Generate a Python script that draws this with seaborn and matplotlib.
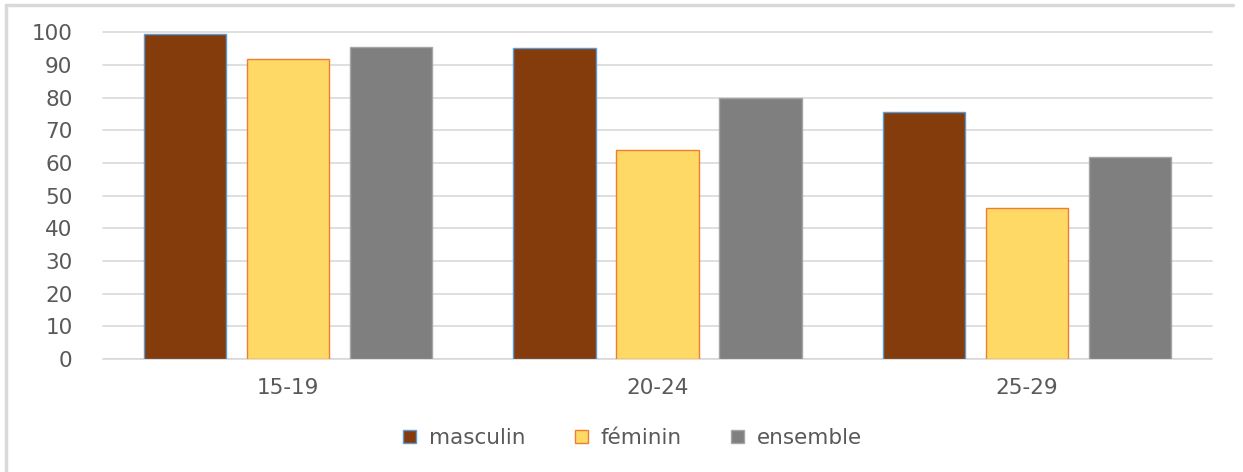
import pandas as pd
import matplotlib.pyplot as plt
import seaborn as sns
from matplotlib.patches import Patch
from matplotlib.lines import Line2D

# Données
groupes = ['15-19', '20-24', '25-29']
series = ['masculin', 'féminin', 'ensemble']
masculin = [99.6, 95.1, 75.5]
feminin = [91.7, 63.9, 46.2]
ensemble = [95.5, 79.8, 61.8]

df = pd.DataFrame({
    'groupe': groupes * 3,
    'serie': [series[0]] * 3 + [series[1]] * 3 + [series[2]] * 3,
    'valeur': masculin + feminin + ensemble,
})

couleurs = ['#843C0C', '#FFD966', '#7F7F7F']
bords = ['#5B9BD5', '#ED7D31', '#A5A5A5']
gris_texte = '#595959'

sns.set_theme(style="white")
plt.rcParams['font.family'] = ['DejaVu Sans']

fig = plt.figure(figsize=(12.43, 4.72), dpi=100)
ax = fig.add_axes([0.0829, 0.2394, 0.975 - 0.0829, 0.9316 - 0.2394])

sns.barplot(data=df, x='groupe', y='valeur', hue='serie', order=groupes,
            hue_order=series, palette=couleurs, saturation=1, width=0.835, gap=0.2,
            legend=False, ax=ax, zorder=3)

for cont, bc in zip(ax.containers, bords):
    for bar in cont:
        bar.set_edgecolor(bc)
        bar.set_linewidth(1.0)

ax.set_ylim(0, 100)
ax.set_xlim(-0.5, 2.5)
ax.set_yticks(range(0, 101, 10))
ax.yaxis.grid(True, color='#D9D9D9', linewidth=1.2, zorder=0)
for gl in ax.get_ygridlines():
    gl.set_clip_on(False)
for s in ax.spines.values():
    s.set_visible(False)
ax.axhline(0, color='#D9D9D9', linewidth=1.5, zorder=1)

ax.set_xlabel('')
ax.set_ylabel('')
ax.tick_params(axis='y', length=0, pad=22, labelsize=15.5, labelcolor=gris_texte)
ax.tick_params(axis='x', length=0, pad=14, labelsize=15.5, labelcolor=gris_texte)

handles = [Patch(facecolor=c, edgecolor=b, linewidth=1.0) for c, b in zip(couleurs, bords)]
leg = fig.legend(handles, series, loc='center', bbox_to_anchor=(0.509, 0.072),
                 ncol=3, frameon=False, fontsize=15.5, handlelength=0.6,
                 handleheight=0.6, handletextpad=0.6, columnspacing=2.3)
for t in leg.get_texts():
    t.set_color(gris_texte)

# cadre du graphique (haut et gauche)
fig.add_artist(Line2D([6 / 1243, 6 / 1243], [0, 1 - 5 / 472], color='#D9D9D9', linewidth=2.5))
fig.add_artist(Line2D([6 / 1243, 1233 / 1243], [1 - 5 / 472, 1 - 5 / 472], color='#D9D9D9', linewidth=2.5))

fig.savefig('out.png', dpi=100)
